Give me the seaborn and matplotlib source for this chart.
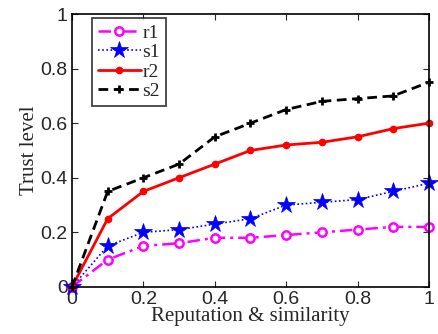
import numpy as np
import pandas as pd
import matplotlib
matplotlib.use("Agg")
import matplotlib.pyplot as plt
import seaborn as sns

# data
x = [0, 0.1, 0.2, 0.3, 0.4, 0.5, 0.6, 0.7, 0.8, 0.9, 1.0]
r1 = [0, 0.10, 0.15, 0.16, 0.18, 0.18, 0.19, 0.20, 0.21, 0.22, 0.22]
s1 = [0, 0.15, 0.20, 0.21, 0.23, 0.25, 0.30, 0.31, 0.32, 0.35, 0.38]
r2 = [0, 0.25, 0.35, 0.40, 0.45, 0.50, 0.52, 0.53, 0.55, 0.58, 0.60]
s2 = [0, 0.35, 0.40, 0.45, 0.55, 0.60, 0.65, 0.68, 0.69, 0.70, 0.75]

series = {'r1': r1, 's1': s1, 'r2': r2, 's2': s2}
df = pd.concat([pd.DataFrame({'x': x, 'y': v, 'name': k}) for k, v in series.items()])

styles = {
    'r1': dict(color='#ff00ff', ls=(0, (5, 2, 1.2, 2)), marker='o', ms=6, mfc='white', mew=1.8, lw=1.8),
    's1': dict(color='blue', ls=(0, (1, 1.5)), marker='*', ms=13, mfc='blue', mew=0.5, lw=1.2),
    'r2': dict(color='red', ls='-', marker='.', ms=9, mfc='red', mew=1, lw=2),
    's2': dict(color='black', ls=(0, (3.5, 2)), marker='+', ms=6, mfc='black', mew=2, lw=2),
}

sns.set_style('ticks')
plt.rcParams['font.family'] = ['Liberation Sans', 'DejaVu Sans']

fig = plt.figure(figsize=(4.39, 3.34), dpi=100)
ax = fig.add_axes([0.164, 0.141, 0.813, 0.817])

for name in series:
    st = styles[name]
    sns.lineplot(data=df[df['name'] == name], x='x', y='y', ax=ax, label=name,
                 color=st['color'], linestyle=st['ls'], marker=st['marker'],
                 markersize=st['ms'], markerfacecolor=st['mfc'],
                 markeredgecolor=st['color'], markeredgewidth=st['mew'],
                 linewidth=st['lw'], clip_on=False)

ax.set_xlim(0, 1)
ax.set_ylim(0, 1)
ax.set_xticks([0, 0.2, 0.4, 0.6, 0.8, 1])
ax.set_xticklabels(['0', '0.2', '0.4', '0.6', '0.8', '1'])
ax.set_yticks([0, 0.2, 0.4, 0.6, 0.8, 1])
ax.set_yticklabels(['0', '0.2', '0.4', '0.6', '0.8', '1'])
ax.tick_params(direction='in', top=True, right=True, labelsize=14, length=4, pad=3)
for sp in ax.spines.values():
    sp.set_linewidth(1.2)
    sp.set_color('black')

ax.set_xlabel('Reputation & similarity', family='Liberation Serif', fontsize=15, labelpad=-1)
ax.set_ylabel('Trust level', family='Liberation Serif', fontsize=15, labelpad=1)

leg = ax.legend(loc='upper left', bbox_to_anchor=(0.056, 0.985), prop={'family': 'Liberation Serif', 'size': 14},
                frameon=True, fancybox=False, handlelength=2.2, handletextpad=0.1,
                labelspacing=0.1, borderpad=0.3, borderaxespad=0)
leg.get_frame().set_edgecolor('black')
leg.get_frame().set_linewidth(1.2)

fig.savefig('out.png', dpi=100)
